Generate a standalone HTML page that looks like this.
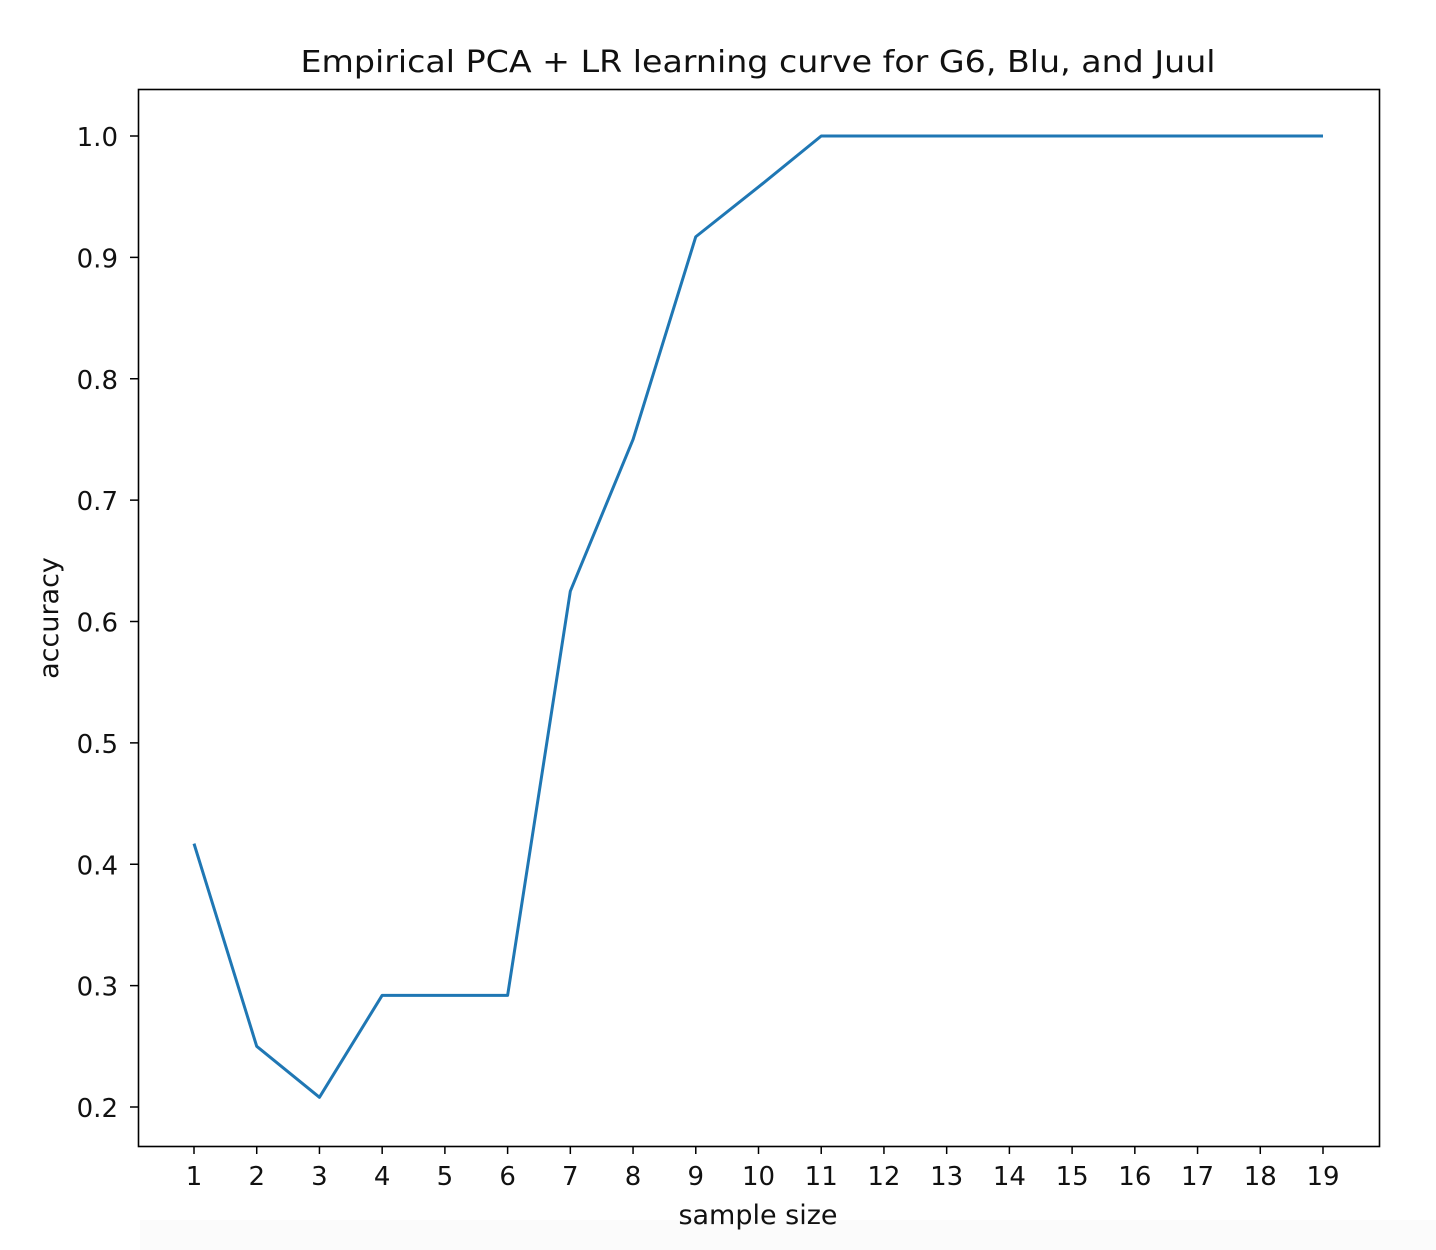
<!DOCTYPE html>
<html>
<head>
<meta charset="utf-8">
<style>
html,body{margin:0;padding:0;background:#fff;}
svg{display:block;font-family:"DejaVu Sans","Liberation Sans",sans-serif;}
</style>
</head>
<body>
<svg id="chart" width="1436" height="1250" viewBox="0 0 1436 1250">
  <rect x="0" y="0" width="1436" height="1250" fill="#fff"/>
  <rect x="140" y="1220" width="1296" height="30" fill="#fbfbfb"/>
  <text x="758" y="72" text-anchor="middle" font-size="30" textLength="915" lengthAdjust="spacingAndGlyphs" fill="#111">Empirical PCA + LR learning curve for G6, Blu, and Juul</text>
  <g id="ticks"></g>
  <path id="line" fill="none" stroke="#1f77b4" stroke-width="3" stroke-linejoin="round"/>
  <rect x="138.5" y="89.5" width="1241" height="1057" fill="none" stroke="#000" stroke-width="1.6"/>
  <text x="758" y="1224" text-anchor="middle" font-size="27" fill="#111">sample size</text>
  <text transform="translate(58,618) rotate(-90)" text-anchor="middle" font-size="27" fill="#111">accuracy</text>
</svg>
<script>
const sampleSizes = [1,2,3,4,5,6,7,8,9,10,11,12,13,14,15,16,17,18,19];
const accuracy = [0.417,0.25,0.208,0.292,0.292,0.292,0.625,0.75,0.917,0.958,1.0,1.0,1.0,1.0,1.0,1.0,1.0,1.0,1.0];
const yTicks = [0.2,0.3,0.4,0.5,0.6,0.7,0.8,0.9,1.0];

function xScale(v){ return 194 + (v - 1) * (1323 - 194) / 18; }
function yScale(v){ return 1107 - (v - 0.2) * (1107 - 136) / 0.8; }

const NS = "http://www.w3.org/2000/svg";
const g = document.getElementById("ticks");

sampleSizes.forEach(function(s){
  const x = xScale(s);
  const t = document.createElementNS(NS, "line");
  t.setAttribute("x1", x); t.setAttribute("x2", x);
  t.setAttribute("y1", 1146); t.setAttribute("y2", 1154);
  t.setAttribute("stroke", "#000"); t.setAttribute("stroke-width", "1.5");
  
  
  g.appendChild(t);
  const l = document.createElementNS(NS, "text");
  l.setAttribute("x", x); l.setAttribute("y", 1185);
  l.setAttribute("text-anchor", "middle"); l.setAttribute("font-size", "26"); l.setAttribute("fill", "#111");
  l.textContent = s;
  
  
  g.appendChild(l);
});

yTicks.forEach(function(v){
  const y = yScale(v);
  const t = document.createElementNS(NS, "line");
  t.setAttribute("x1", 130); t.setAttribute("x2", 138);
  t.setAttribute("y1", y); t.setAttribute("y2", y);
  t.setAttribute("stroke", "#000"); t.setAttribute("stroke-width", "1.5");
  
  
  g.appendChild(t);
  const l = document.createElementNS(NS, "text");
  l.setAttribute("x", 118); l.setAttribute("y", y + 10);
  l.setAttribute("text-anchor", "end"); l.setAttribute("font-size", "26"); l.setAttribute("fill", "#111");
  l.textContent = v.toFixed(1);
  
  
  g.appendChild(l);
});

let d = "";
sampleSizes.forEach(function(s, i){
  d += (i ? "L" : "M") + xScale(s).toFixed(2) + "," + yScale(accuracy[i]).toFixed(2);
});
document.getElementById("line").setAttribute("d", d);
</script>
</body>
</html>
